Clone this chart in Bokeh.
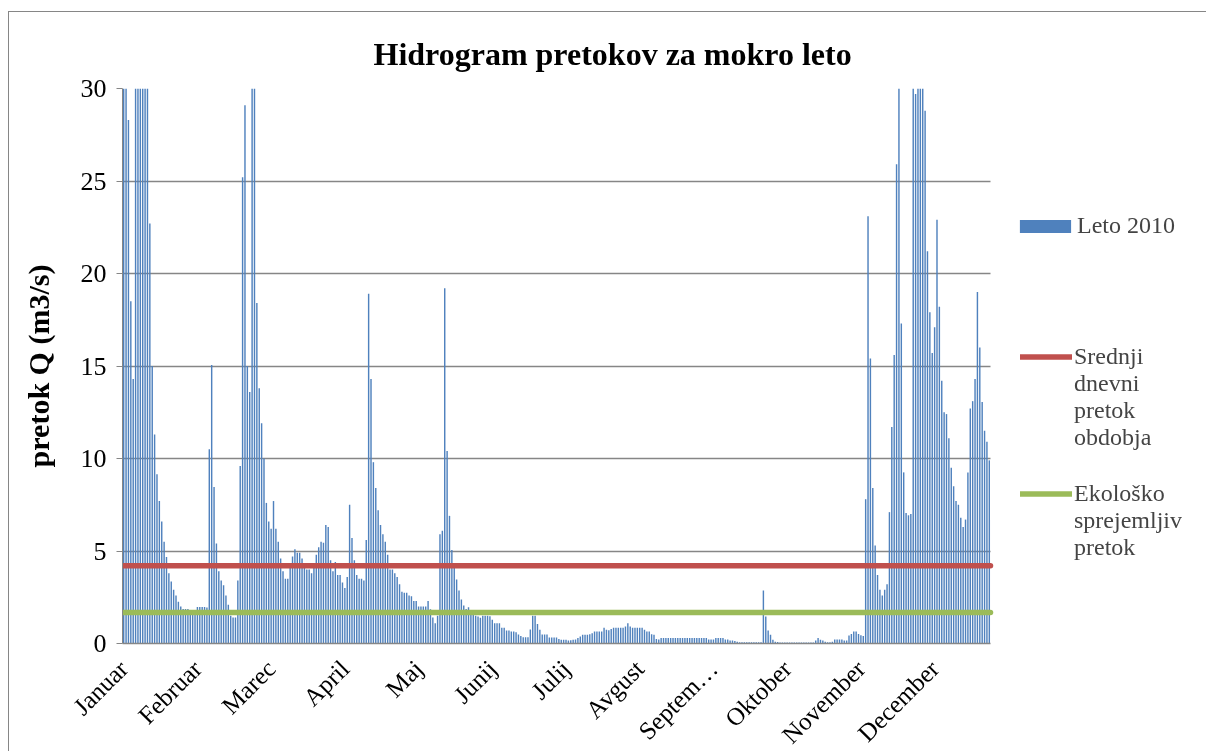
import math
from bokeh.plotting import figure
from bokeh.models import Range1d, FixedTicker, Legend, LegendItem
from bokeh.embed import file_html
from bokeh.resources import INLINE

# ---- data -----------------------------------------------------------------
month_labels = ["Januar", "Februar", "Marec", "April", "Maj", "Junij", "Julij",
                "Avgust", "Septem\u2026", "Oktober", "November", "December"]
label_days = [1, 32, 63, 94, 125, 156, 187, 218, 249, 280, 311, 342]
y_ticks = [0, 5, 10, 15, 20, 25, 30]

jan = [35, 32, 28.3, 18.5, 14.3, 38, 42, 45, 40, 36, 33, 22.7, 15.0, 11.3, 9.15,
       7.7, 6.6, 5.5, 4.67, 3.8, 3.35, 2.9, 2.6, 2.26, 2.0, 1.87, 1.87, 1.87,
       1.77, 1.67, 1.77]
feb = [1.97, 1.97, 1.97, 1.97, 1.95, 10.5, 15.06, 8.46, 5.4, 3.9, 3.4, 3.15,
       2.6, 2.1, 1.5, 1.4, 1.4, 3.4, 9.6, 25.2, 29.1, 15.0, 13.6, 36, 34, 18.4,
       13.8, 11.9]
mar = [10.0, 7.6, 6.6, 6.2, 7.7, 6.2, 5.5, 4.6, 3.9, 3.5, 3.5, 4.1, 4.7, 5.1,
       4.9, 4.9, 4.6, 4.2, 4.0, 4.0, 3.8, 4.2, 4.8, 5.2, 5.5, 5.45, 6.4, 6.3,
       4.5, 3.9, 4.4]
apr = [3.7, 3.7, 3.3, 3.0, 3.6, 7.5, 5.7, 4.5, 3.7, 3.5, 3.5, 3.4, 5.6, 18.9,
       14.3, 9.8, 8.4, 7.2, 6.4, 5.9, 5.5, 4.8, 4.0, 4.0, 3.8, 3.6, 3.2, 2.8,
       2.75, 2.75]
maj = [2.6, 2.55, 2.3, 2.3, 2.0, 2.0, 2.0, 2.0, 2.3, 1.85, 1.4, 1.1, 1.5, 5.9,
       6.1, 19.2, 10.4, 6.9, 5.06, 4.1, 3.46, 2.86, 2.38, 2.05, 1.87, 1.96, 1.6,
       1.6, 1.5, 1.46, 1.39]
jun = [1.5, 1.5, 1.5, 1.47, 1.28, 1.1, 1.1, 1.1, 0.85, 0.85, 0.7, 0.7, 0.65,
       0.65, 0.61, 0.49, 0.4, 0.34, 0.34, 0.34, 0.76, 1.5, 1.5, 1.06, 0.74,
       0.49, 0.49, 0.49, 0.32, 0.32]
jul = [0.32, 0.32, 0.25, 0.2, 0.2, 0.2, 0.16, 0.18, 0.2, 0.22, 0.3, 0.38, 0.47,
       0.47, 0.47, 0.5, 0.56, 0.65, 0.65, 0.65, 0.65, 0.85, 0.74, 0.72, 0.79,
       0.85, 0.85, 0.85, 0.85, 0.85, 0.92]
avg = [1.1, 0.92, 0.85, 0.85, 0.85, 0.85, 0.85, 0.74, 0.65, 0.65, 0.5, 0.47,
       0.25, 0.22, 0.3, 0.3, 0.3, 0.3, 0.3, 0.3, 0.3, 0.3, 0.3, 0.3, 0.3, 0.3,
       0.3, 0.3, 0.3, 0.3, 0.3]
sep = [0.3, 0.3, 0.3, 0.22, 0.22, 0.22, 0.3, 0.3, 0.3, 0.3, 0.22, 0.22, 0.16,
       0.16, 0.13, 0.09, 0.07, 0.07, 0.07, 0.07, 0.07, 0.07, 0.07, 0.07, 0.07,
       0.07, 2.86, 1.46, 0.7, 0.47]
okt = [0.2, 0.1, 0.08, 0.05, 0.05, 0.05, 0.05, 0.05, 0.05, 0.05, 0.05, 0.05,
       0.05, 0.05, 0.05, 0.05, 0.05, 0.05, 0.16, 0.3, 0.2, 0.16, 0.09, 0.07,
       0.07, 0.1, 0.22, 0.22, 0.22, 0.22, 0.16]
nov = [0.16, 0.43, 0.52, 0.65, 0.65, 0.52, 0.45, 0.4, 7.8, 23.1, 15.4, 8.4, 5.3,
       3.7, 2.9, 2.6, 2.9, 3.2, 7.1, 11.7, 15.6, 25.9, 37, 17.3, 9.25, 7.05,
       6.93, 7.0, 39, 29.7]
dec = [41, 44, 38, 28.8, 21.2, 17.9, 15.7, 17.1, 22.9, 18.2, 14.2, 12.5, 12.4,
       11.1, 9.5, 8.5, 7.7, 7.5, 6.8, 6.3, 6.7, 9.25, 12.7, 13.1, 14.3, 19.0,
       16.0, 13.05, 11.5, 10.9, 9.9]

mean_flow = 4.2      # Srednji dnevni pretok obdobja
eco_flow = 1.68      # Ekološko sprejemljiv pretok

flow = jan + feb + mar + apr + maj + jun + jul + avg + sep + okt + nov + dec
days = list(range(1, len(flow) + 1))
x_span = [days[0] - 0.5, days[-1] + 0.5]

# ---- geometry (canvas pixels) -------------------------------------------------
W = 1198
F_LEFT, F_TOP = 113, 76          # frame left/top inside the canvas
PLOT_W, PLOT_H = 868, 555        # width of the 365 days, height of 0..30
B_BOTTOM = 150                   # room for the rotated month labels
H = F_TOP + PLOT_H + B_BOTTOM
px_day = PLOT_W / len(days)
x_end = x_span[0] + (W - F_LEFT) / px_day

FONT = "Liberation Serif"
GRID = "#868686"

p = figure(width=W, height=H, output_backend="svg", toolbar_location=None,
           x_range=Range1d(x_span[0], x_end), y_range=Range1d(y_ticks[0], y_ticks[-1]),
           min_border_left=F_LEFT, min_border_right=0, min_border_top=F_TOP,
           min_border_bottom=B_BOTTOM,
           title="Hidrogram pretokov za mokro leto")
# fixed placement: the empty lower part of the canvas may run past the window edge
p.styles = {"position": "fixed", "left": "8px", "top": "11px",
            "border-left": "1px solid #868686", "border-top": "1px solid #868686"}
p.outline_line_color = None
p.background_fill_color = "white"

p.title.text_font = FONT
p.title.text_font_size = "32px"
p.title.text_font_style = "bold"
p.title.text_color = "black"
p.title.align = "left"
p.title.offset = 251
p.title.standoff = 34

r_bar = p.vbar(x=days, top=flow, width=0.6, fill_color="#4F81BD", line_color=None)
r_mean = p.line(x=x_span, y=[mean_flow, mean_flow], line_color="#C0504D",
                line_width=5.5, line_cap="round")
r_eco = p.line(x=x_span, y=[eco_flow, eco_flow], line_color="#9BBB59",
               line_width=5.5, line_cap="round")

# horizontal grid only over the 365 days
g = p.ygrid[0]
g.ticker = FixedTicker(ticks=y_ticks)
g.grid_line_color = GRID
g.grid_line_width = 1.5
if "cross_bounds" in g.properties():
    g.cross_bounds = (x_span[0], x_span[1])
else:
    g.visible = False
    p.segment(x0=x_span[0], x1=x_span[1], y0=y_ticks, y1=y_ticks,
              line_color=GRID, line_width=1.5, level="underlay")
p.xgrid.visible = False

# y axis
ay = p.yaxis[0]
ay.bounds = (y_ticks[0], y_ticks[-1])
ay.ticker = FixedTicker(ticks=y_ticks)
ay.axis_line_color = GRID
ay.major_tick_line_color = GRID
ay.major_tick_out = 6
ay.major_tick_in = 0
ay.minor_tick_line_color = None
ay.major_label_text_font = FONT
ay.major_label_text_font_size = "26px"
ay.major_label_text_color = "black"
ay.major_label_standoff = 10
ay.axis_label = "pretok Q (m3/s)"
ay.axis_label_text_font = FONT
ay.axis_label_text_font_size = "30px"
ay.axis_label_text_font_style = "bold"
ay.axis_label_text_color = "black"
ay.axis_label_standoff = 23

# x (category) axis with rotated month names
axx = p.xaxis[0]
axx.bounds = (x_span[0], x_span[1])
axx.ticker = FixedTicker(ticks=label_days)
axx.major_label_overrides = {d: m for d, m in zip(label_days, month_labels)}
axx.major_label_orientation = math.pi / 4
axx.axis_line_color = GRID
axx.axis_line_width = 1.5
axx.major_tick_out = 0
axx.major_tick_in = 0
axx.minor_tick_line_color = None
axx.major_label_text_font = FONT
axx.major_label_text_font_size = "25px"
axx.major_label_text_color = "black"
axx.major_label_standoff = 21


def add_legend(label, renderer, loc, glyph_w, glyph_h, standoff):
    lg = Legend(items=[LegendItem(label=label, renderers=[renderer])], location=loc)
    lg.label_text_font = FONT
    lg.label_text_font_size = "24px"
    lg.label_text_line_height = 1.17
    lg.glyph_width = glyph_w
    lg.glyph_height = glyph_h
    lg.label_standoff = standoff
    lg.padding = 0
    lg.margin = 0
    lg.spacing = 0
    lg.border_line_color = None
    lg.background_fill_alpha = 0
    p.add_layout(lg)


# leading blank lines keep each swatch level with the first line of its text
add_legend("Leto 2010", r_bar, (891, 404), 64, 16, 0)
add_legend("\n\n\nSrednji\ndnevni\npretok\nobdobja", r_mean, (898, 192), 52, 13, 2)
add_legend("\n\nEkolo\u0161ko\nsprejemljiv\npretok", r_eco, (898, 82), 52, 13, 2)

open("out.html", "w").write(file_html(p, INLINE))
